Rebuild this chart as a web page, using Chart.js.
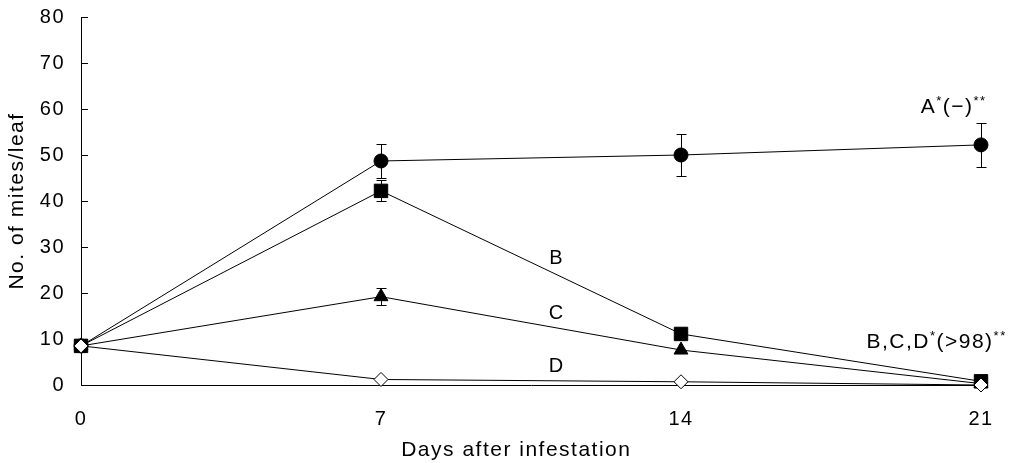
<!DOCTYPE html>
<html>
<head>
<meta charset="utf-8">
<script src="https://cdn.jsdelivr.net/npm/chart.js@4"></script>
<style>
  html, body { margin: 0; padding: 0; background: #fff; }
  #wrap { width: 1009px; height: 463px; }
</style>
</head>
<body>
<div id="wrap"><canvas id="mitesChart" width="1009" height="463"></canvas></div>
<script>
// values
const days = [0, 7, 14, 21];
const treatA = [8.5, 48.7, 50.0, 52.2];
const errA = [0, 3.8, 4.5, 4.7];
const treatB = [8.5, 42.2, 11.1, 0.8];
const errB = [0, 2.3, 0, 0];
const treatC = [8.5, 19.2, 7.6, 0.3];
const errC = [0, 1.8, 0, 0];
const treatD = [8.5, 1.2, 0.7, 0];
const yTicks = [0, 10, 20, 30, 40, 50, 60, 70, 80];

const FONT = 'Liberation Sans';
const SPACING = '1.5px';

function toPoints(vals) {
    return days.map((d, i) => ({ x: d, y: vals[i] }));
}

// right-aligned text with superscript parts
function drawRich(ctx, parts, right, midY) {
    const big = '21px "' + FONT + '"';
    const small = '13px "' + FONT + '"';
    let total = 0;
    parts.forEach(([t, sup]) => {
        ctx.font = sup ? small : big;
        total += ctx.measureText(t).width;
    });
    let cx = right - total;
    ctx.textAlign = 'left';
    parts.forEach(([t, sup]) => {
        ctx.font = sup ? small : big;
        ctx.fillText(t, cx, sup ? midY - 6 : midY);
        cx += ctx.measureText(t).width;
    });
}

// error bars, inward y ticks and the text labels in the plot
const extrasPlugin = {
    id: 'extras',
    beforeLayout(chart) { chart.ctx.letterSpacing = SPACING; },
    beforeDraw(chart) { chart.ctx.letterSpacing = SPACING; },
    beforeDatasetsDraw(chart) {
        const { ctx, scales: { x, y } } = chart;
        ctx.save();
        ctx.strokeStyle = '#000';
        ctx.lineWidth = 1;
        [[treatA, errA], [treatB, errB], [treatC, errC]].forEach(([vals, errs]) => {
            vals.forEach((v, i) => {
                if (!errs[i]) return;
                const px = Math.round(x.getPixelForValue(days[i])) + 0.5;
                const top = Math.round(y.getPixelForValue(v + errs[i])) + 0.5;
                const bot = Math.round(y.getPixelForValue(v - errs[i])) + 0.5;
                ctx.beginPath();
                ctx.moveTo(px, top);
                ctx.lineTo(px, bot);
                ctx.moveTo(px - 5, top);
                ctx.lineTo(px + 5, top);
                ctx.moveTo(px - 5, bot);
                ctx.lineTo(px + 5, bot);
                ctx.stroke();
            });
        });
        // inward tick marks on the y axis
        const ax = x.left;
        yTicks.forEach(t => {
            const py = Math.round(y.getPixelForValue(t)) + 0.5;
            ctx.beginPath();
            ctx.moveTo(ax, py);
            ctx.lineTo(ax + 7, py);
            ctx.stroke();
        });
        ctx.restore();
    },
    afterDatasetsDraw(chart) {
        const { ctx, scales: { x, y } } = chart;
        ctx.save();
        ctx.fillStyle = '#000';
        ctx.textBaseline = 'middle';
        ctx.font = '20px "' + FONT + '"';
        ctx.textAlign = 'center';
        ctx.fillText('B', x.getPixelForValue(11.1), y.getPixelForValue(27.6));
        ctx.fillText('C', x.getPixelForValue(11.1), y.getPixelForValue(15.6));
        ctx.fillText('D', x.getPixelForValue(11.1), y.getPixelForValue(4.1));

        drawRich(ctx, [['A', 0], ['*', 1], ['(\u2212)', 0], ['**', 1]],
            x.getPixelForValue(21.13), y.getPixelForValue(60.4));
        drawRich(ctx, [['B,C,D', 0], ['*', 1], ['(>98)', 0], ['**', 1]],
            x.getPixelForValue(21.6), y.getPixelForValue(9.2));
        ctx.restore();
    }
};

const baseLine = {
    borderColor: '#000',
    borderWidth: 1,
    pointBackgroundColor: '#000',
    pointBorderColor: '#000',
    pointBorderWidth: 1,
    tension: 0,
    fill: false,
    clip: false
};

new Chart(document.getElementById('mitesChart'), {
    type: 'line',
    data: {
        datasets: [
            { ...baseLine, label: 'A', data: toPoints(treatA), pointStyle: 'circle', pointRadius: 7, order: 3 },
            { ...baseLine, label: 'B', data: toPoints(treatB), pointStyle: 'rect', pointRadius: 9.5, order: 2 },
            { ...baseLine, label: 'C', data: toPoints(treatC), pointStyle: 'triangle', pointRadius: 8, order: 1 },
            { ...baseLine, label: 'D', data: toPoints(treatD), pointStyle: 'rectRot', pointRadius: 7,
              pointBackgroundColor: '#fff', order: 0 }
        ]
    },
    options: {
        responsive: false,
        animation: false,
        layout: { padding: { top: 17, right: 28, left: 0, bottom: 0 } },
        plugins: {
            legend: { display: false },
            tooltip: { enabled: false }
        },
        scales: {
            x: {
                type: 'linear',
                min: 0,
                max: 21,
                afterBuildTicks: (scale) => { scale.ticks = days.map(v => ({ value: v })); },
                afterFit: (scale) => {
                    scale.height = 78;
                    scale.paddingLeft = 0;
                    scale.paddingRight = 0;
                },
                grid: { display: false, drawTicks: false },
                border: { display: true, color: '#000', width: 1 },
                ticks: { color: '#000', padding: 22, font: { family: FONT, size: 20 }, maxRotation: 0 },
                title: {
                    display: true,
                    text: 'Days after infestation    ',
                    color: '#000',
                    font: { family: FONT, size: 21 },
                    padding: { top: 0, bottom: 0 }
                }
            },
            y: {
                min: 0,
                max: 80,
                afterBuildTicks: (scale) => { scale.ticks = yTicks.map(v => ({ value: v })); },
                afterFit: (scale) => {
                    scale.width = 81;
                    scale.paddingTop = 0;
                    scale.paddingBottom = 0;
                },
                grid: { display: false, drawTicks: false },
                border: { display: true, color: '#000', width: 1 },
                ticks: { color: '#000', padding: 16, font: { family: FONT, size: 20 } },
                title: {
                    display: true,
                    text: 'No. of mites/leaf',
                    color: '#000',
                    font: { family: FONT, size: 21 },
                    padding: { top: 5, bottom: 0 }
                }
            }
        }
    },
    plugins: [extrasPlugin]
});
</script>
</body>
</html>
